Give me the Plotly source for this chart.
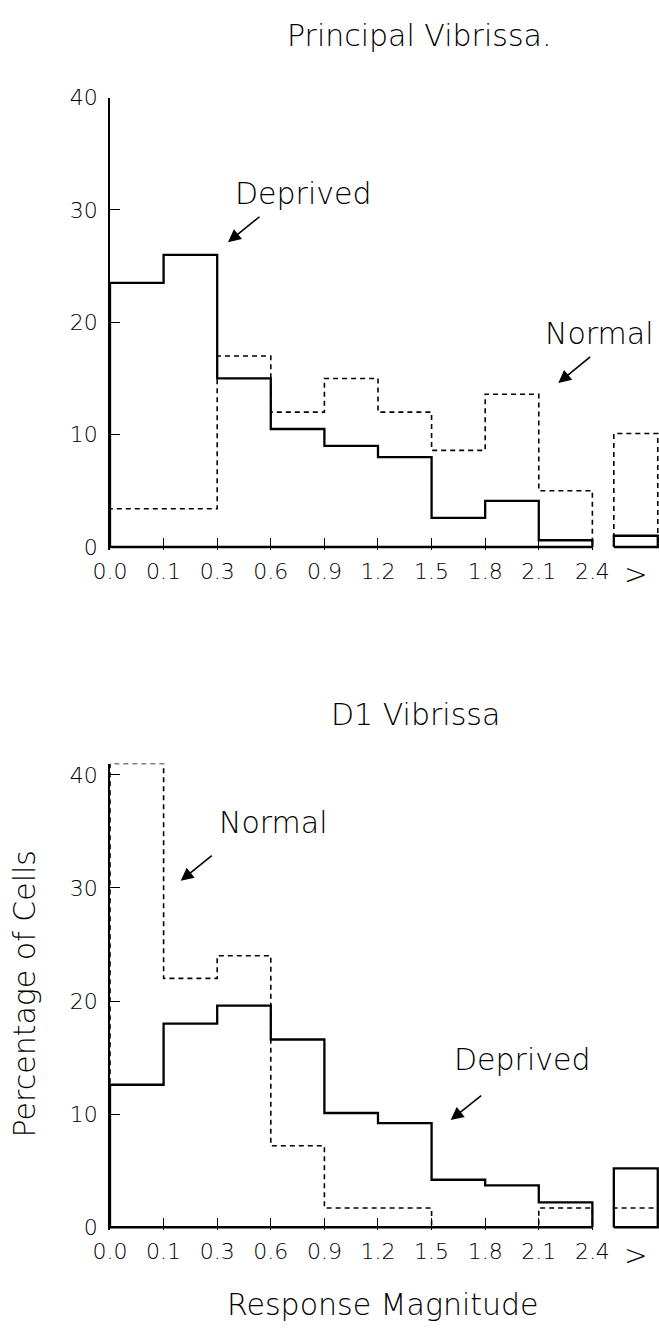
import plotly.graph_objects as go

# ---- data ----
bin_labels = ["0.0", "0.1", "0.3", "0.6", "0.9", "1.2", "1.5", "1.8", "2.1", "2.4"]
over_label = ">"

pv_deprived = [23.5, 26.0, 15.0, 10.5, 9.0, 8.0, 2.6, 4.1, 0.6]
pv_normal = [3.4, 3.4, 17.0, 12.0, 15.0, 12.0, 8.6, 13.6, 5.0]
pv_deprived_over = 1.0
pv_normal_over = 10.1

d1_deprived = [12.6, 18.0, 19.6, 16.6, 10.1, 9.2, 4.2, 3.7, 2.2]
d1_normal = [41.0, 22.0, 24.0, 7.2, 1.7, 1.7, 0.0, 0.0, 1.7]
d1_deprived_over = 5.2
d1_normal_over = 1.7

# ---- layout constants ----
W, H = 659, 1328
FONT = "DejaVu Sans"
WEIGHT = 200
BIG = 30
TICK = 22
OVER_X0, OVER_X1 = 9.4, 10.22
XMAX = 10.243


def step_xy(vals):
    xs = [0] + list(range(len(vals) + 1)) + [len(vals)]
    ys = [0] + list(vals) + [vals[-1], 0]
    return xs, ys


def box_xy(h):
    return [OVER_X0, OVER_X0, OVER_X1, OVER_X1, OVER_X0], [0, h, h, 0, 0]


fig = go.Figure()

panels = [
    ("x", "y", pv_deprived, pv_normal, pv_deprived_over, pv_normal_over),
    ("x2", "y2", d1_deprived, d1_normal, d1_deprived_over, d1_normal_over),
]
for xa, ya, dep, nor, dep_o, nor_o in panels:
    dash = dict(color="black", width=1.6, dash="5px,4px")
    solid = dict(color="black", width=2.3)
    xs, ys = step_xy(nor)
    fig.add_trace(go.Scatter(x=xs, y=ys, mode="lines", line=dash, line_shape="hv",
                             xaxis=xa, yaxis=ya, showlegend=False, hoverinfo="skip"))
    bx, by = box_xy(nor_o)
    fig.add_trace(go.Scatter(x=bx, y=by, mode="lines", line=dash,
                             xaxis=xa, yaxis=ya, showlegend=False, hoverinfo="skip"))
    # baseline
    fig.add_trace(go.Scatter(x=[0, len(dep)], y=[0, 0], mode="lines", line=solid,
                             xaxis=xa, yaxis=ya, showlegend=False, hoverinfo="skip"))
    xs, ys = step_xy(dep)
    fig.add_trace(go.Scatter(x=xs, y=ys, mode="lines", line=solid, line_shape="hv",
                             xaxis=xa, yaxis=ya, showlegend=False, hoverinfo="skip"))
    bx, by = box_xy(dep_o)
    fig.add_trace(go.Scatter(x=bx, y=by, mode="lines", line=solid,
                             xaxis=xa, yaxis=ya, showlegend=False, hoverinfo="skip"))


def ydom(px_top, px_bottom):
    return [1 - px_bottom / H, 1 - px_top / H]


tick_font = dict(family=FONT, size=TICK, color="black", weight=WEIGHT)
big_font = dict(family=FONT, size=BIG, color="black", weight=WEIGHT)
over_font = dict(family=FONT, size=28, color="black", weight=WEIGHT)

xaxis_common = dict(
    range=[0, XMAX], domain=[0, 1], showgrid=False, zeroline=False, showline=False,
    tickmode="array", tickvals=list(range(len(bin_labels))), ticktext=bin_labels,
    ticks="inside", ticklen=12, tickwidth=1.3, tickcolor="black",
    tickfont=tick_font, ticklabelstandoff=6,
)
yaxis_common = dict(
    showgrid=False, zeroline=False, showline=True, linecolor="black", linewidth=1.5,
    tickmode="array", tickvals=[0, 10, 20, 30, 40],
    ticks="inside", ticklen=10, tickwidth=1.3, tickcolor="black",
    tickfont=tick_font, ticklabelstandoff=6,
)

top_px40, top_px0 = 87, 544
bot_px40, bot_px0 = 775.7, 1235.7
top_k = (top_px0 - top_px40) / 40
bot_k = (bot_px0 - bot_px40) / 40

fig.update_layout(
    width=W, height=H, margin=dict(l=110, r=0, t=0, b=0),
    paper_bgcolor="white", plot_bgcolor="rgba(0,0,0,0)",
    xaxis=dict(xaxis_common, anchor="y"),
    yaxis=dict(yaxis_common, range=[-0.25, 40], anchor="x",
               domain=ydom(top_px40, top_px0 + 0.25 * top_k)),
    xaxis2=dict(xaxis_common, anchor="y2"),
    yaxis2=dict(yaxis_common, range=[-0.25, 41], anchor="x2",
                domain=ydom(bot_px0 - 41 * bot_k, bot_px0 + 0.25 * bot_k)),
)

annotations = [
    # titles
    dict(text="Principal Vibrissa.", xref="paper", yref="paper", x=(419 - 110) / 549,
         y=1 - 24 / H, showarrow=False, font=big_font, xanchor="center", yanchor="middle"),
    dict(text="D1 Vibrissa", xref="paper", yref="paper", x=(415 - 110) / 549,
         y=1 - 714 / H, showarrow=False, font=big_font, xanchor="center", yanchor="middle"),
    dict(text="Percentage of Cells", xref="paper", yref="paper", x=(24 - 110) / 549,
         y=1 - 999 / H, showarrow=False, font=big_font, textangle=-90,
         xanchor="center", yanchor="middle"),
    dict(text="Response Magnitude", xref="paper", yref="paper", x=(383 - 110) / 549,
         y=1 - 1314 / H, showarrow=False, font=big_font, xanchor="center", yanchor="middle"),
    # ">" labels
    dict(text=over_label, xref="x", yref="paper", x=(OVER_X0 + OVER_X1) / 2,
         y=1 - 572 / H, showarrow=False, font=over_font, xanchor="center", yanchor="middle"),
    dict(text=over_label, xref="x2", yref="paper", x=(OVER_X0 + OVER_X1) / 2,
         y=1 - 1264 / H, showarrow=False, font=over_font, xanchor="center", yanchor="middle"),
    # top panel labels
    dict(text="Deprived", xref="x", yref="y", x=3.619, y=31.42, showarrow=False, font=big_font),
    dict(text="Normal", xref="x", yref="y", x=9.14, y=18.99, showarrow=False, font=big_font),
    # bottom panel labels
    dict(text="Normal", xref="x2", yref="y2", x=3.048, y=35.80, showarrow=False, font=big_font),
    dict(text="Deprived", xref="x2", yref="y2", x=7.696, y=14.84, showarrow=False, font=big_font),
]

arrows = [
    ("x", "y", 2.817, 29.50, 2.201, 27.13),
    ("x", "y", 8.987, 17.04, 8.364, 14.59),
    ("x2", "y2", 1.927, 32.96, 1.319, 30.64),
    ("x2", "y2", 6.953, 11.74, 6.356, 9.48),
]
for xr, yr, tx, ty, hx, hy in arrows:
    annotations.append(dict(
        text="", xref=xr, yref=yr, x=hx, y=hy, axref=xr, ayref=yr, ax=tx, ay=ty,
        showarrow=True, arrowhead=2, arrowsize=1.6, arrowwidth=1.6, arrowcolor="black",
        standoff=0, startstandoff=0,
    ))

fig.update_layout(annotations=annotations)

fig.write_html("out.html")
